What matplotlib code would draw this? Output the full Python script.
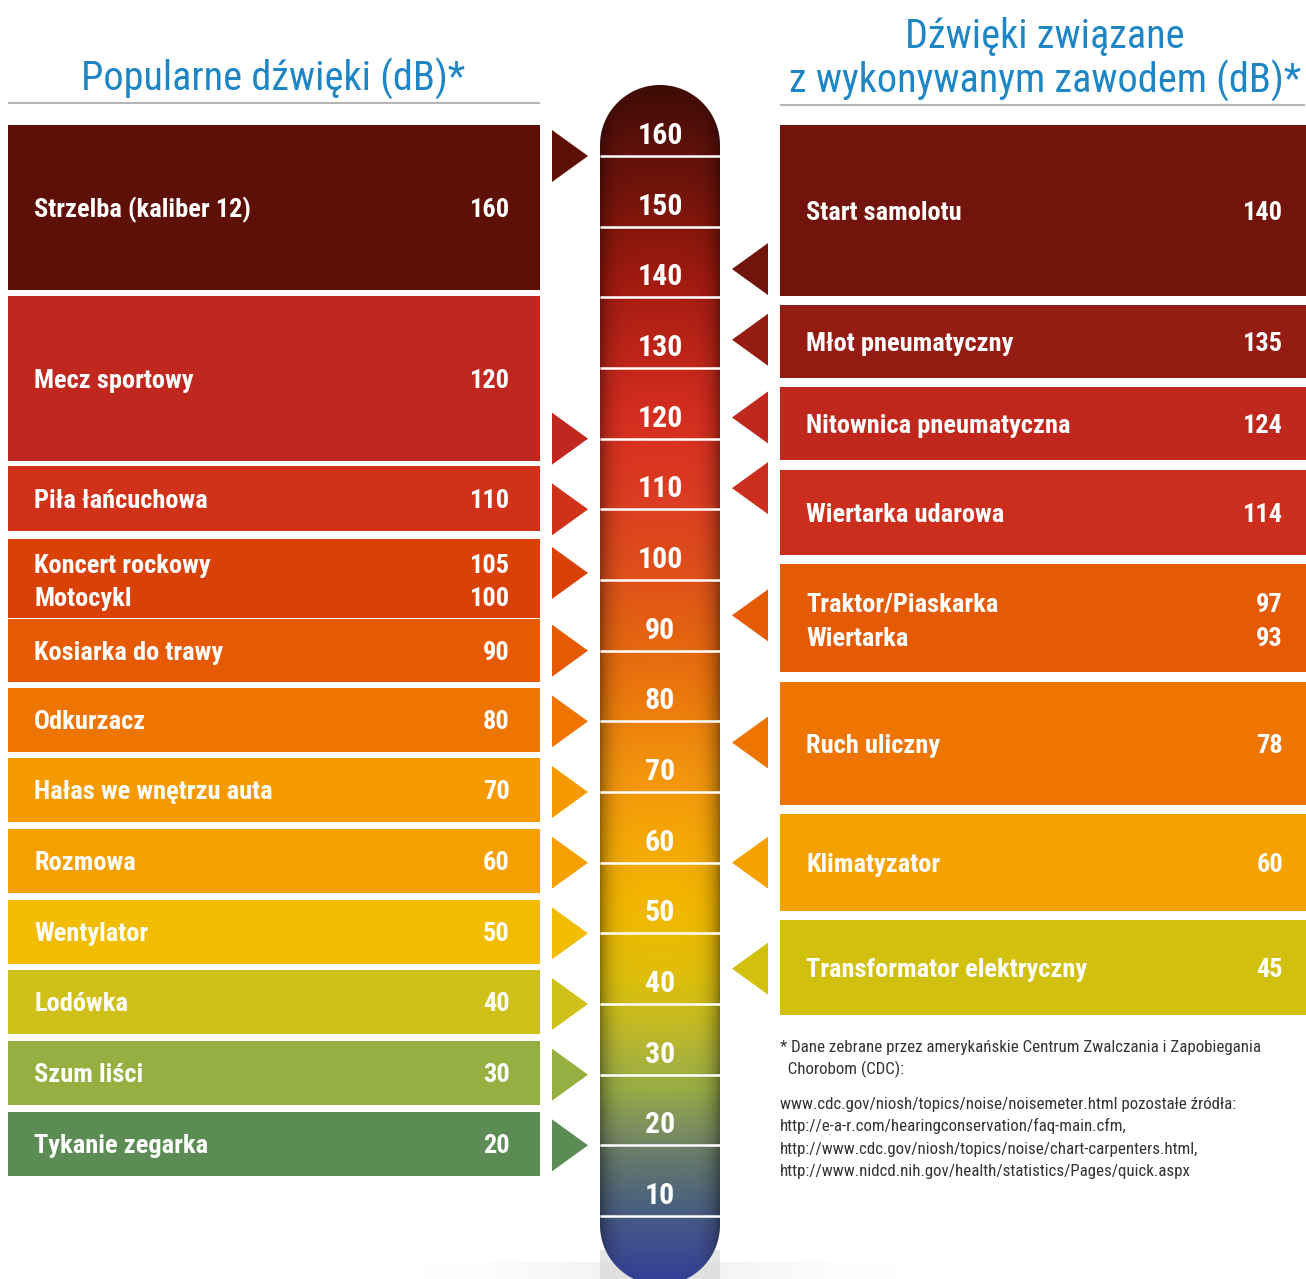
import numpy as np
import matplotlib
matplotlib.use("Agg")
import matplotlib.pyplot as plt
from matplotlib import font_manager
from matplotlib.patches import Rectangle, Polygon, PathPatch
from matplotlib.path import Path
from matplotlib.colors import to_rgb

# ---------------- data ----------------
scale_ticks = [160, 150, 140, 130, 120, 110, 100, 90, 80, 70, 60, 50, 40, 30, 20, 10]

left_labels = ["Strzelba (kaliber 12)", "Mecz sportowy", "Piła łańcuchowa",
               "Koncert rockowy", "Motocykl", "Kosiarka do trawy", "Odkurzacz",
               "Hałas we wnętrzu auta", "Rozmowa", "Wentylator", "Lodówka",
               "Szum liści", "Tykanie zegarka"]
left_values = [160, 120, 110, 105, 100, 90, 80, 70, 60, 50, 40, 30, 20]
left_group = [0, 1, 2, 3, 3, 4, 5, 6, 7, 8, 9, 10, 11]
left_arrow_db = [160, 120, 110, 101, 90, 80, 70, 60, 50, 40, 30, 20]

right_labels = ["Start samolotu", "Młot pneumatyczny", "Nitownica pneumatyczna",
                "Wiertarka udarowa", "Traktor/Piaskarka", "Wiertarka",
                "Ruch uliczny", "Klimatyzator", "Transformator elektryczny"]
right_values = [140, 135, 124, 114, 97, 93, 78, 60, 45]
right_group = [0, 1, 2, 3, 4, 4, 5, 6, 7]
right_arrow_db = [144, 134, 123, 113, 95, 77, 60, 45]

title_left = "Popularne dźwięki (dB)*"
title_right = ["Dźwięki związane", "z wykonywanym zawodem (dB)*"]
note_lines = ["* Dane zebrane przez amerykańskie Centrum Zwalczania i Zapobiegania",
              "  Chorobom (CDC):"]
source_lines = ["www.cdc.gov/niosh/topics/noise/noisemeter.html pozostałe źródła:",
                "http://e-a-r.com/hearingconservation/faq-main.cfm,",
                "http://www.cdc.gov/niosh/topics/noise/chart-carpenters.html,",
                "http://www.nidcd.nih.gov/health/statistics/Pages/quick.aspx"]

# ---------------- layout / style ----------------
left_colors = ["#5e0f06", "#c0271f", "#cf3218", "#d94107", "#e55a03", "#ef7503",
               "#f59b00", "#f5a000", "#f2bd00", "#cfc01a", "#95b040", "#5b8c53"]
left_top_db = [164.4, 140.2, 116.1, 105.8, 94.5, 84.7, 74.8, 64.8, 54.7, 44.8, 34.8, 24.7]
left_bot_db = [141.0, 116.8, 106.9, 94.6, 85.6, 75.7, 65.8, 55.7, 45.7, 35.8, 25.7, 15.7]

right_colors = ["#72140c", "#951c12", "#c0281e", "#cb2e1c", "#e55a05", "#ef7503",
                "#f5a100", "#d2c00f"]
right_top_db = [164.4, 138.9, 127.3, 115.6, 102.3, 85.6, 66.9, 51.9]
right_bot_db = [140.2, 128.6, 117.0, 103.5, 87.0, 68.2, 53.2, 38.4]

PX_PER_DB = 7.0667
LINE160_PX = 156.0


def px2db(y):
    return 160.0 - (y - LINE160_PX) / PX_PER_DB


names = {f.name for f in font_manager.fontManager.ttflist}
STRETCH = "normal"
FONT = None
for cand in ["Roboto Condensed", "IBM Plex Sans Condensed", "Barlow Semi Condensed",
             "Fira Sans Condensed", "Liberation Sans Narrow"]:
    if cand in names:
        FONT = cand
        break
if FONT is None:
    FONT = "DejaVu Sans"
    STRETCH = "condensed"
plt.rcParams["font.family"] = [FONT, "DejaVu Sans"]
plt.rcParams["font.stretch"] = STRETCH

BLUE = "#1f86c6"

fig = plt.figure(figsize=(13.06, 12.79), dpi=100)
ax = fig.add_axes([0, 0, 1, 1])
ax.set_xlim(0, 1306)
ax.set_ylim(px2db(1279), px2db(0))
ax.axis("off")

# ---------------- titles ----------------
TITLE_FS = 29
ax.text(273, px2db(91), title_left, ha="center", va="baseline", fontsize=TITLE_FS, color=BLUE)
ax.text(1045, px2db(48), title_right[0], ha="center", va="baseline", fontsize=TITLE_FS, color=BLUE)
ax.text(1045, px2db(93), title_right[1], ha="center", va="baseline", fontsize=TITLE_FS, color=BLUE)
ax.plot([8, 540], [px2db(103)] * 2, color="#b5b5b5", lw=1.5, solid_capstyle="butt")
ax.plot([780, 1305], [px2db(105)] * 2, color="#b5b5b5", lw=1.5, solid_capstyle="butt")

# ---------------- boxes ----------------
TXT_FS = 19
CAP_DB = 18.8 / PX_PER_DB
TRI_H = 26 / PX_PER_DB


def draw_side(labels, values, groups, colors, tops, bots, arrows, x0, x1, xl, xv, tri_base, tri_tip):
    for g, (c, t, b) in enumerate(zip(colors, tops, bots)):
        ax.add_patch(Rectangle((x0, b), x1 - x0, t - b, facecolor=c, edgecolor="none", zorder=2))
        a = arrows[g]
        ax.add_patch(Polygon([(tri_base, a + TRI_H), (tri_base, a - TRI_H), (tri_tip, a)],
                             closed=True, facecolor=c, edgecolor="none", zorder=2))
        idx = [i for i, gg in enumerate(groups) if gg == g]
        center = (t + b) / 2
        offs = [0.0] if len(idx) == 1 else [2.1, -2.6]
        for i, o in zip(idx, offs):
            yb = center + o - CAP_DB / 2
            ax.text(xl, yb, labels[i], ha="left", va="baseline", fontsize=TXT_FS,
                    weight="bold", color="white", zorder=3)
            ax.text(xv, yb, str(values[i]), ha="right", va="baseline", fontsize=TXT_FS,
                    weight="bold", color="white", zorder=3)


draw_side(left_labels, left_values, left_group, left_colors, left_top_db, left_bot_db,
          left_arrow_db, 8, 540, 34, 510, 552, 588)
draw_side(right_labels, right_values, right_group, right_colors, right_top_db, right_bot_db,
          right_arrow_db, 780, 1306, 806, 1283, 768, 732)

# ---------------- thermometer ----------------
T_X0, T_X1 = 600, 720
T_TOP = px2db(85)
T_BOT = px2db(1285)
RX = 60
RY = 60 / PX_PER_DB

stops = [(0, "#313c96"), (8, "#43558a"), (13, "#50677a"), (18, "#667a6c"), (23, "#80935c"),
         (28, "#98ac44"), (33, "#b0b438"), (38, "#c8bc20"), (43, "#dcbf0c"), (53, "#f2b800"),
         (63, "#f5a806"), (73, "#f3940e"), (83, "#ec7a0c"), (93, "#e46212"), (103, "#de4c1c"),
         (113, "#dc3a22"), (123, "#d62e20"), (133, "#bc2418"), (143, "#a01a10"),
         (153, "#7a150b"), (163, "#58100a"), (171, "#3a0a04")]
sd = np.array([s[0] for s in stops], float)
sc = np.array([to_rgb(s[1]) for s in stops])
NR, NC = 800, 120
ys = np.linspace(T_BOT, T_TOP, NR)
col = np.stack([np.interp(ys, sd, sc[:, k]) for k in range(3)], axis=1)
xn = np.linspace(-1, 1, NC)
shade = 1 - 0.38 * np.abs(xn) ** 6
img = col[:, None, :] * shade[None, :, None]

# faint shadow below
ax.add_patch(Rectangle((T_X0, px2db(1279)), T_X1 - T_X0, px2db(1250) - px2db(1279),
                       facecolor="#e4e4e4", edgecolor="none", zorder=1))
sh = np.ones((1, 200, 4))
sh[..., :3] = 0.85
sh[0, :, 3] = 0.35 * np.exp(-(np.linspace(-1, 1, 200) / 0.55) ** 2)
ax.imshow(sh, extent=[420, 900, px2db(1279), px2db(1262)], aspect="auto", zorder=1,
          interpolation="bilinear")

im = ax.imshow(img, extent=[T_X0, T_X1, T_BOT, T_TOP], origin="lower", aspect="auto",
               zorder=2, interpolation="bilinear")
top_c = T_TOP - RY
bot_c = T_BOT + RY
t1 = np.linspace(0, np.pi, 80)
t2 = np.linspace(np.pi, 2 * np.pi, 80)
verts = np.concatenate([
    np.column_stack([660 + RX * np.cos(t1), top_c + RY * np.sin(t1)]),
    np.column_stack([660 + RX * np.cos(t2), bot_c + RY * np.sin(t2)]),
])
verts = np.vstack([verts, verts[:1]])
codes = [Path.MOVETO] + [Path.LINETO] * (len(verts) - 2) + [Path.CLOSEPOLY]
clip = PathPatch(Path(verts, codes), transform=ax.transData, facecolor="none", edgecolor="none")
ax.add_patch(clip)
im.set_clip_path(clip)

ax.hlines(scale_ticks, T_X0, T_X1, color="white", lw=1.8, zorder=3)
for v in scale_ticks:
    ax.text(660, v + 1.7, str(v), ha="center", va="baseline", fontsize=21.5, weight="bold",
            color="white", zorder=4)

# ---------------- footnote ----------------
NOTE_FS = 12.2
ax.text(780, px2db(1052), note_lines[0], ha="left", va="baseline", fontsize=NOTE_FS, color="#333333")
ax.text(780, px2db(1074), note_lines[1], ha="left", va="baseline", fontsize=NOTE_FS, color="#333333")
for k, line in enumerate(source_lines):
    ax.text(780, px2db(1109 + 22.3 * k), line, ha="left", va="baseline", fontsize=NOTE_FS,
            color="#333333")

fig.savefig("out.png", dpi=100, facecolor="white")
